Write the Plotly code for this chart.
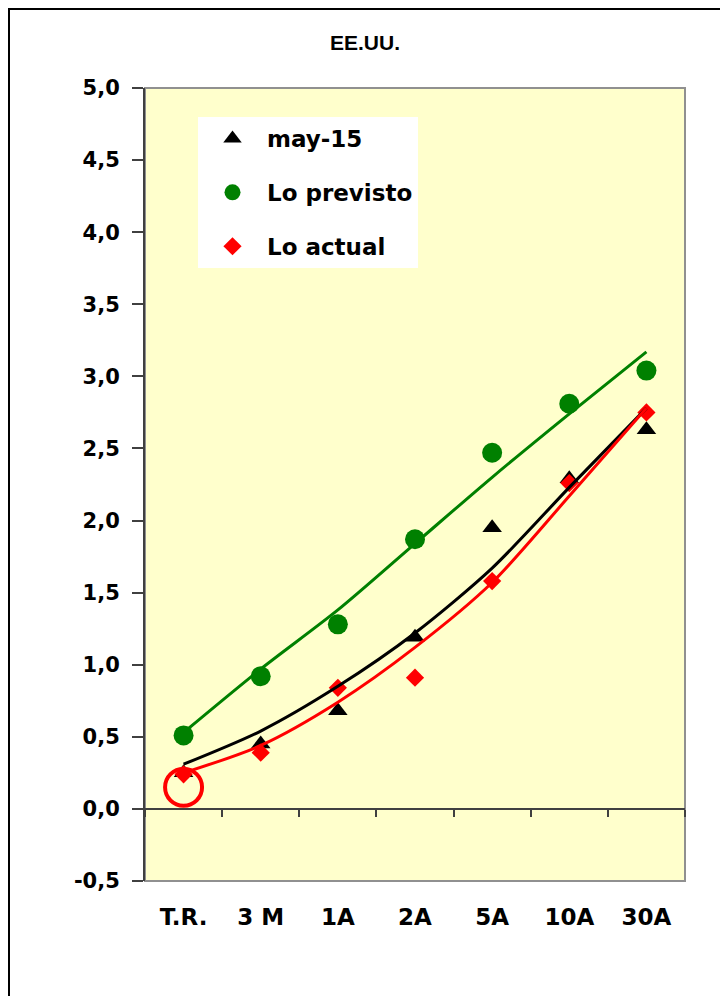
import plotly.graph_objects as go

# ---------------- data ----------------
categories = ["T.R.", "3 M", "1A", "2A", "5A", "10A", "30A"]

may15 = [0.25, 0.45, 0.68, 1.19, 1.95, 2.29, 2.63]
previsto = [0.51, 0.92, 1.28, 1.87, 2.47, 2.81, 3.04]
actual = [0.24, 0.39, 0.84, 0.91, 1.58, 2.26, 2.75]

trend_may15 = [0.31, 0.54, 0.85, 1.22, 1.67, 2.23, 2.78]
trend_previsto = [0.53, 0.97, 1.38, 1.84, 2.30, 2.74, 3.17]
trend_actual = [0.25, 0.44, 0.74, 1.12, 1.57, 2.17, 2.78]

highlight_cat = ["T.R."]
highlight_val = [0.15]

y_min, y_max, y_step = -0.5, 5.0, 0.5
title_text = "EE.UU."
series_names = ["may-15", "Lo previsto", "Lo actual"]

# ---------------- styling ----------------
GREEN = "#008000"
RED = "#FF0000"
BLACK = "#000000"
AXIS = "#404040"
PLOT_BG = "#FFFFCC"
FONT = "DejaVu Sans"

fig = go.Figure()

# trend lines (on overlay axis x2 that sits on y=0)
for vals, col in [(trend_previsto, GREEN), (trend_may15, BLACK), (trend_actual, RED)]:
    fig.add_trace(go.Scatter(
        x=categories, y=vals, mode="lines", xaxis="x2", yaxis="y",
        line=dict(color=col, width=3, shape="spline", smoothing=0.8),
        showlegend=False, hoverinfo="skip"))

# markers
fig.add_trace(go.Scatter(
    x=categories, y=may15, mode="markers", name=series_names[0], legendgroup="a",
    marker=dict(symbol="triangle-up", size=17, color=BLACK)))
fig.add_trace(go.Scatter(
    x=categories, y=previsto, mode="markers", name=series_names[1], legendgroup="b",
    marker=dict(symbol="circle", size=20, color=GREEN)))
fig.add_trace(go.Scatter(
    x=categories, y=actual, mode="markers", name=series_names[2], legendgroup="c",
    marker=dict(symbol="diamond", size=14, color=RED)))

# red highlight circle
fig.add_trace(go.Scatter(
    x=highlight_cat, y=highlight_val, mode="markers", showlegend=False,
    marker=dict(symbol="circle-open", size=37, color=RED, line=dict(color=RED, width=4))))

L, R, T, B = 145, 35, 88, 115
W, H = 720, 996
pw, ph = W - L - R, H - T - B

def px_x(px):
    return (px - L) / pw

def px_y(py):
    return (H - B - py) / ph

zero_pos = (0 - y_min) / (y_max - y_min)

yticks = [round(y_min + i * y_step, 2) for i in range(int(round((y_max - y_min) / y_step)) + 1)]
ytick_text = [f"{v:.1f}".replace(".", ",") for v in yticks]

fig.update_layout(
    width=W, height=H,
    margin=dict(l=L, r=R, t=T, b=B, pad=0),
    paper_bgcolor="white",
    plot_bgcolor=PLOT_BG,
    font=dict(family=FONT, color=BLACK),
    showlegend=True,
    legend=dict(
        x=px_x(198), y=px_y(117), xanchor="left", yanchor="top",
        bgcolor="white", borderwidth=0,
        font=dict(family=FONT, size=23, color=BLACK, weight="bold"),
        traceorder="grouped", tracegroupgap=21, itemwidth=59,
    ),
    xaxis=dict(
        type="category", categoryorder="array", categoryarray=categories,
        range=[-0.5, len(categories) - 0.5],
        showgrid=False, zeroline=False, showline=False,
        ticks="", ticklabelstandoff=20,
        tickfont=dict(family=FONT, size=23, color=BLACK, weight="bold"),
    ),
    xaxis2=dict(
        type="category", categoryorder="array", categoryarray=categories,
        range=[-0.5, len(categories) - 0.5],
        overlaying="x", anchor="free", position=zero_pos, side="bottom",
        showgrid=False, zeroline=False, showline=True,
        linecolor=AXIS, linewidth=2,
        tickson="boundaries", ticks="outside", ticklen=7, tickwidth=1.5, tickcolor=AXIS,
        showticklabels=False,
    ),
    yaxis=dict(
        range=[y_min, y_max], tickmode="array", tickvals=yticks, ticktext=ytick_text,
        showgrid=False, zeroline=False,
        showline=True, linecolor=AXIS, linewidth=2,
        ticks="outside", ticklen=11, tickwidth=1.5, tickcolor=AXIS,
        ticklabelstandoff=8,
        tickfont=dict(family=FONT, size=21, color=BLACK, weight="bold"),
    ),
    shapes=[
        # plot area border
        dict(type="rect", xref="paper", yref="paper", x0=0, x1=1, y0=0, y1=1,
             line=dict(color="#909090", width=2), layer="below"),
        # outer frame (left and top edges visible)
        dict(type="rect", xref="paper", yref="paper",
             x0=px_x(9), x1=px_x(760), y0=px_y(1040), y1=px_y(9),
             line=dict(color=BLACK, width=2), layer="above"),
    ],
    annotations=[
        dict(text=title_text, xref="paper", yref="paper",
             x=px_x(365), y=px_y(43), xanchor="center", yanchor="middle",
             showarrow=False,
             font=dict(family="Liberation Sans", size=21, color=BLACK, weight="bold")),
    ],
)

fig.write_html("out.html")
